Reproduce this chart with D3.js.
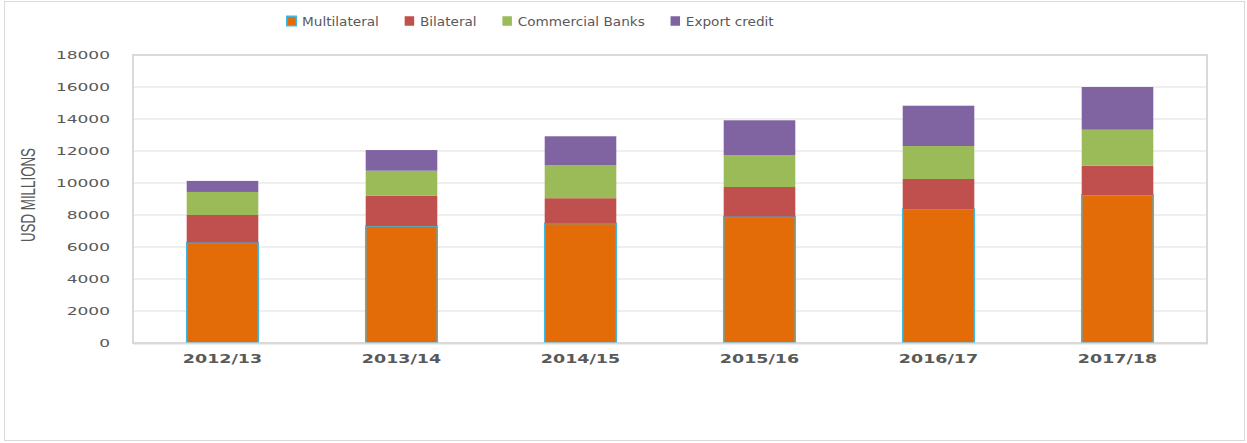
<!DOCTYPE html>
<html>
<head>
<meta charset="utf-8">
<script src="https://cdn.jsdelivr.net/npm/d3@7"></script>
<style>
  html, body { margin: 0; padding: 0; background: #fff; }
  svg { display: block; }
</style>
</head>
<body>
<svg id="chart" width="1247" height="443"></svg>
<script>
const categories = ["2012/13", "2013/14", "2014/15", "2015/16", "2016/17", "2017/18"];
const seriesNames = ["Multilateral", "Bilateral", "Commercial Banks", "Export credit"];
const multilateral = [6280, 7310, 7470, 7900, 8360, 9250];
const bilateral = [1720, 1890, 1580, 1850, 1890, 1830];
const commercialBanks = [1440, 1570, 2050, 2000, 2060, 2250];
const exportCredit = [690, 1290, 1820, 2170, 2520, 2670];
const yTicks = [0, 2000, 4000, 6000, 8000, 10000, 12000, 14000, 16000, 18000];
const yTitle = "USD MILLIONS";

const colors = ["#E36C09", "#C0504D", "#9BBB59", "#8064A2"];
const textColor = "#595959";

const svg = d3.select("#chart");

// outer chart border
svg.append("rect").attr("x", 4.5).attr("y", 1.5).attr("width", 1240).attr("height", 439)
  .attr("fill", "#fff").attr("stroke", "#d9d9d9").attr("stroke-width", 1);

const plot = { left: 133, right: 1207, top: 55, bottom: 343 };

const x = d3.scaleBand().domain(categories).range([plot.left, plot.right])
  .paddingInner(0.6).paddingOuter(0.3);
const y = d3.scaleLinear().domain([0, 18000]).range([plot.bottom, plot.top]);

function stretch(sel, f) {
  sel.each(function () {
    const len = this.getComputedTextLength();
    d3.select(this).attr("textLength", len * f).attr("lengthAdjust", "spacingAndGlyphs");
  });
}

// gridlines
svg.append("g").selectAll("line").data(yTicks.filter(d => d > 0)).join("line")
  .attr("x1", plot.left).attr("x2", plot.right)
  .attr("y1", d => y(d)).attr("y2", d => y(d))
  .attr("stroke", "#e0e0e0").attr("stroke-width", 1.2);

// plot area border
svg.append("rect").attr("x", plot.left).attr("y", plot.top)
  .attr("width", plot.right - plot.left).attr("height", plot.bottom - plot.top)
  .attr("fill", "none").attr("stroke", "#d9d9d9").attr("stroke-width", 2);

// stacked data
const rows = categories.map((c, i) => ({
  cat: c,
  "Multilateral": multilateral[i],
  "Bilateral": bilateral[i],
  "Commercial Banks": commercialBanks[i],
  "Export credit": exportCredit[i]
}));
const stacked = d3.stack().keys(seriesNames)(rows);

const gBars = svg.append("g");
stacked.forEach((layer, li) => {
  gBars.append("g").selectAll("rect").data(layer).join("rect")
    .attr("x", d => x(d.data.cat))
    .attr("width", x.bandwidth())
    .attr("y", d => y(d[1]))
    .attr("height", d => y(d[0]) - y(d[1]))
    .attr("fill", colors[li])
    .attr("stroke", li === 0 ? "#3cb9e6" : "none")
    .attr("stroke-width", li === 0 ? 1.5 : 0);
});

// y axis (labels only)
const yAxis = d3.axisLeft(y).tickValues(yTicks).tickFormat(d3.format("d")).tickSize(0).tickPadding(23);
const gy = svg.append("g").attr("transform", `translate(${plot.left},0)`).call(yAxis);
gy.select(".domain").remove();
gy.selectAll("text").attr("fill", textColor)
  .style("font-family", "DejaVu Sans").style("font-size", "10.5px");
stretch(gy.selectAll("text"), 1.62);

// x axis labels
const xAxis = d3.axisBottom(x).tickSize(0).tickPadding(12);
const gx = svg.append("g").attr("transform", `translate(0,${plot.bottom})`).call(xAxis);
gx.select(".domain").attr("stroke", "#d9d9d9").attr("stroke-width", 2);
gx.selectAll("text").attr("fill", textColor)
  .style("font-family", "DejaVu Sans").style("font-size", "11.5px").style("font-weight", "bold");
stretch(gx.selectAll("text"), 1.52);

// y title
const yt = svg.append("text")
  .attr("transform", "translate(35,195) rotate(-90)")
  .attr("text-anchor", "middle")
  .attr("fill", textColor)
  .style("font-family", "Liberation Sans Narrow, Liberation Sans")
  .style("font-size", "20px")
  .text(yTitle);
yt.attr("textLength", 94).attr("lengthAdjust", "spacingAndGlyphs");

// legend
const legend = svg.append("g");
let lx = 286;
seriesNames.forEach((name, i) => {
  const g = legend.append("g");
  g.append("rect").attr("x", lx + 0.75).attr("y", 16.25).attr("width", 9.5).attr("height", 9.5)
    .attr("fill", colors[i])
    .attr("stroke", i === 0 ? "#3cb9e6" : "none").attr("stroke-width", i === 0 ? 1.5 : 0);
  const t = g.append("text").attr("x", lx + 16).attr("y", 25.5)
    .attr("fill", textColor)
    .style("font-family", "DejaVu Sans").style("font-size", "12.5px")
    .text(name);
  const len = t.node().getComputedTextLength() * 1.09;
  t.attr("textLength", len).attr("lengthAdjust", "spacingAndGlyphs");
  lx = lx + 16 + len + 25;
});
</script>
</body>
</html>
